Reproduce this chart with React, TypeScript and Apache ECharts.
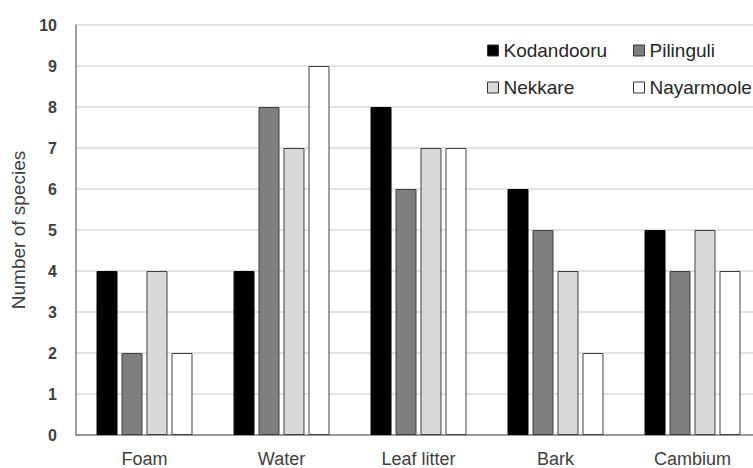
import React, { useEffect, useRef } from "react";
import * as echarts from "echarts";

const categories = ["Foam", "Water", "Leaf litter", "Bark", "Cambium"];
const kodandooru = [4, 4, 8, 6, 5];
const pilinguli = [2, 8, 6, 5, 4];
const nekkare = [4, 7, 7, 4, 5];
const nayarmoole = [2, 9, 7, 2, 4];
const seriesNames = ["Kodandooru", "Pilinguli", "Nekkare", "Nayarmoole"];
const seriesColors = ["#000000", "#7f7f7f", "#d9d9d9", "#ffffff"];

const FONT = "'Liberation Sans', Arial, sans-serif";

export default function App() {
  const ref = useRef<HTMLDivElement>(null);
  useEffect(() => {
    if (!ref.current) return;
    const chart = echarts.init(ref.current, undefined, { renderer: "svg" });
    const values = [kodandooru, pilinguli, nekkare, nayarmoole];
    const legendPos = [
      { left: 487, top: 41 },
      { left: 633, top: 41 },
      { left: 487, top: 78 },
      { left: 633, top: 78 },
    ];
    chart.setOption({
      animation: false,
      backgroundColor: "#ffffff",
      textStyle: { fontFamily: FONT },
      grid: { left: 76, top: 25, width: 685, height: 410, containLabel: false, outerBoundsMode: "none" },
      legend: seriesNames.map((n, i) => ({
        data: [n],
        left: legendPos[i].left,
        top: legendPos[i].top,
        icon: "rect",
        itemWidth: 11,
        itemHeight: 11,
        itemGap: 4,
        padding: 0,
        textStyle: { fontSize: 19, color: "#262626", fontFamily: FONT },
        itemStyle: { borderColor: "#333333", borderWidth: 1 },
      })),
      xAxis: {
        type: "category",
        data: categories,
        axisTick: { show: false },
        axisLine: { lineStyle: { color: "#808080", width: 1.5 } },
        axisLabel: { fontSize: 18, color: "#404040", margin: 15, fontFamily: FONT },
      },
      yAxis: {
        type: "value",
        min: 0,
        max: 10,
        interval: 1,
        name: "Number of species",
        nameLocation: "middle",
        nameRotate: 90,
        nameGap: 47,
        nameTextStyle: { fontSize: 19, color: "#404040", fontFamily: FONT },
        axisLine: { show: true, lineStyle: { color: "#808080", width: 1.5 } },
        axisTick: { show: false },
        splitLine: { lineStyle: { color: "#d9d9d9", width: 1.5 } },
        axisLabel: { fontSize: 16, color: "#404040", margin: 19, fontFamily: FONT, fontWeight: "bold" },
      },
      series: seriesNames.map((n, i) => ({
        name: n,
        type: "bar",
        data: values[i],
        barWidth: 21,
        barGap: "19%",
        itemStyle: { color: seriesColors[i], borderColor: i === 0 ? "#000000" : "#404040", borderWidth: 1 },
      })),
    });
    return () => chart.dispose();
  }, []);
  return <div ref={ref} style={{ width: 753, height: 468, position: "absolute", left: 0, top: 0 }} />;
}
